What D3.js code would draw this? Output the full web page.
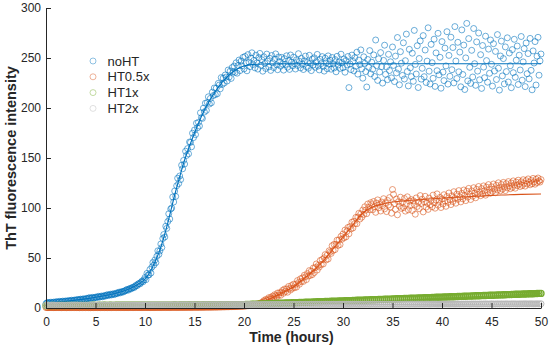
<!DOCTYPE html>
<html>
<head>
<meta charset="utf-8">
<script src="https://cdn.jsdelivr.net/npm/d3@7"></script>
<style>
  body { margin: 0; background: #fff; }
  svg { display: block; font-family: "Liberation Sans", Arial, sans-serif; }
</style>
</head>
<body>
<div id="chart"></div>
<script>
// noHT and HT0.5x read every 0.1 h, HT1x and HT2x every 0.2 h (0 to 50 h)
const fineStep = 0.1, fineCount = 501;
const coarseStep = 0.2, coarseCount = 251;

const seriesNames = ["noHT", "HT0.5x", "HT1x", "HT2x"];

// one row per hour
const noHT = [
  4.4, 5.1, 5.6, 4.9, 5.3, 5.8, 5.0, 5.5, 6.0, 5.2,
  5.9, 6.4, 5.6, 6.1, 6.7, 5.9, 6.3, 6.9, 6.2, 6.6,
  7.1, 6.5, 6.9, 7.5, 6.8, 7.3, 7.8, 7.0, 7.6, 8.0,
  7.5, 8.1, 8.5, 7.9, 8.4, 8.9, 8.2, 8.7, 9.2, 8.5,
  9.0, 9.6, 9.2, 9.9, 10.3, 9.5, 10.1, 10.6, 9.8, 10.4,
  10.9, 10.3, 11.1, 11.6, 10.8, 11.4, 12.0, 11.2, 11.8, 12.4,
  11.9, 12.7, 13.3, 12.5, 13.1, 13.8, 13.0, 13.6, 14.3, 13.5,
  14.1, 14.9, 14.4, 15.3, 15.9, 15.1, 15.8, 16.6, 16.0, 16.9,
  17.2, 17.9, 18.6, 17.8, 18.9, 19.7, 19.1, 20.2, 20.9, 20.4,
  21.6, 22.8, 22.3, 23.9, 24.6, 24.1, 25.8, 26.9, 26.2, 28.3,
  30.5, 28.3, 34.6, 33.0, 33.0, 38.5, 35.0, 41.0, 45.5, 43.0,
  48.0, 45.4, 51.8, 57.2, 53.6, 57.0, 64.0, 60.5, 69.5, 73.5,
  71.0, 81.8, 79.6, 86.4, 94.2, 89.0, 99.0, 100.0, 111.0, 106.0,
  117.0, 111.6, 122.2, 129.8, 124.4, 132.0, 128.4, 142.8, 139.2, 147.6,
  144.0, 156.8, 152.6, 159.4, 154.2, 166.0, 165.6, 161.2, 174.8, 170.4,
  178.0, 173.4, 184.8, 180.2, 185.6, 182.0, 195.2, 190.4, 189.6, 199.8,
  196.0, 204.8, 197.6, 205.4, 211.2, 204.0, 209.6, 205.2, 215.8, 212.4,
  220.0, 213.4, 219.8, 214.2, 224.6, 223.0, 219.2, 230.4, 223.6, 229.8,
  225.0, 233.0, 231.0, 227.0, 238.0, 231.0, 236.8, 229.6, 240.4, 236.2,
  242.0, 235.6, 245.2, 234.8, 242.4, 248.0, 237.4, 246.8, 242.2, 250.6,
  239.1, 251.6, 244.8, 237.2, 253.4, 246.0, 241.3, 249.9, 255.2, 243.5,
  247.6, 240.2, 252.8, 245.1, 238.9, 250.4, 254.6, 242.7, 248.3, 236.8,
  251.2, 244.6, 239.5, 253.9, 246.8, 241.1, 249.7, 237.6, 252.5, 245.3,
  240.4, 248.9, 254.1, 243.2, 238.3, 251.0, 246.4, 241.8, 250.6, 244.0,
  237.9, 249.3, 243.7, 252.2, 240.8, 247.5, 238.6, 253.0, 245.9, 242.1,
  250.8, 244.4, 239.0, 248.1, 242.6, 254.3, 246.7, 240.1, 249.6, 243.8,
  238.5, 247.2, 251.9, 241.4, 245.6, 239.8, 252.7, 244.9, 237.4, 249.0,
  243.1, 250.2, 240.7, 246.3, 253.6, 242.0, 238.1, 248.6, 244.5, 251.4,
  241.6, 236.9, 249.8, 245.2, 239.3, 252.1, 243.9, 247.7, 238.8, 250.5,
  244.2, 240.0, 248.4, 236.2, 251.7, 242.9, 246.0, 239.6, 253.8, 245.4,
  240.3, 249.1, 235.8, 247.4, 243.0, 251.5, 220.4, 244.1, 238.4, 252.9,
  246.6, 237.1, 250.3, 241.7, 255.8, 233.9, 247.9, 243.3, 258.1, 239.2,
  229.8, 251.2, 244.7, 236.4, 221.0, 248.5, 240.6, 257.4, 234.2, 245.8,
  238.7, 253.1, 231.5, 268.0, 242.4, 227.6, 249.2, 236.0, 255.4, 241.3,
  224.9, 247.6, 262.8, 233.7, 241.0, 228.3, 253.7, 237.5, 246.2, 230.1,
  261.0, 242.6, 226.4, 251.9, 235.1, 270.5, 238.9, 223.2, 256.3, 244.8,
  232.6, 265.2, 229.0, 247.3, 273.9, 236.5, 222.1, 258.7, 240.2, 231.4,
  254.8, 226.7, 277.6, 243.6, 234.0, 262.3, 220.5, 249.5, 267.1, 228.9,
  239.7, 272.4, 231.3, 258.0, 225.5, 246.9, 280.2, 236.8, 224.0, 263.6,
  245.3, 229.7, 268.8, 221.6, 255.1, 237.3, 274.7, 233.2, 250.7, 219.8,
  266.4, 235.9, 227.4, 259.9, 242.1, 276.3, 223.9, 252.6, 231.7, 270.8,
  238.3, 260.5, 225.1, 281.4, 247.0, 229.5, 265.7, 236.2, 255.9, 221.2,
  278.1, 233.5, 262.9, 218.5, 250.1, 284.6, 227.1, 269.4, 240.7, 224.6,
  257.7, 231.0, 279.5, 244.3, 222.7, 266.1, 236.9, 275.0, 228.2, 253.3,
  219.6, 262.5, 240.9, 230.3, 271.8, 247.4, 225.8, 258.9, 234.7, 268.0,
  243.7, 221.9, 264.3, 237.0, 256.6, 228.5, 273.4, 239.8, 217.9, 252.0,
  266.9, 232.1, 249.4, 224.1, 261.1, 236.4, 270.2, 226.0, 255.0, 242.3,
  220.3, 258.4, 235.3, 268.7, 230.7, 247.8, 262.0, 223.5, 252.8, 238.0,
  271.5, 227.8, 246.1, 259.4, 221.4, 265.0, 234.3, 254.4, 229.1, 269.6,
  237.7, 218.2, 257.1, 245.0, 266.4, 223.0, 251.8, 270.7, 232.8, 247.1,
  254.0
];

const ht05x = [
  0.4, 0.5, 0.3, 0.5, 0.4, 0.6, 0.4, 0.5, 0.3, 0.5,
  0.5, 0.4, 0.6, 0.4, 0.5, 0.5, 0.3, 0.5, 0.6, 0.4,
  0.5, 0.3, 0.5, 0.6, 0.4, 0.5, 0.4, 0.6, 0.5, 0.4,
  0.6, 0.4, 0.5, 0.5, 0.3, 0.6, 0.5, 0.4, 0.5, 0.6,
  0.4, 0.5, 0.6, 0.4, 0.5, 0.3, 0.6, 0.5, 0.4, 0.5,
  0.5, 0.6, 0.4, 0.5, 0.6, 0.4, 0.5, 0.5, 0.6, 0.4,
  0.6, 0.5, 0.4, 0.6, 0.5, 0.5, 0.4, 0.6, 0.5, 0.6,
  0.5, 0.4, 0.6, 0.5, 0.6, 0.4, 0.5, 0.6, 0.5, 0.4,
  0.6, 0.5, 0.5, 0.4, 0.6, 0.5, 0.6, 0.5, 0.4, 0.6,
  0.5, 0.6, 0.5, 0.6, 0.4, 0.6, 0.5, 0.5, 0.6, 0.5,
  0.6, 0.5, 0.6, 0.5, 0.6, 0.5, 0.4, 0.6, 0.6, 0.5,
  0.5, 0.6, 0.6, 0.5, 0.7, 0.5, 0.6, 0.5, 0.6, 0.7,
  0.6, 0.5, 0.7, 0.6, 0.6, 0.5, 0.7, 0.6, 0.6, 0.7,
  0.6, 0.7, 0.5, 0.7, 0.6, 0.7, 0.6, 0.6, 0.7, 0.6,
  0.7, 0.6, 0.7, 0.7, 0.6, 0.8, 0.6, 0.7, 0.7, 0.8,
  0.7, 0.8, 0.7, 0.7, 0.8, 0.7, 0.8, 0.8, 0.7, 0.8,
  0.8, 0.8, 0.9, 0.8, 0.9, 0.8, 0.9, 0.9, 0.8, 1.0,
  0.9, 1.0, 0.9, 1.0, 1.0, 1.1, 1.0, 1.1, 1.1, 1.2,
  1.1, 1.2, 1.2, 1.3, 1.2, 1.3, 1.4, 1.3, 1.4, 1.5,
  1.4, 1.5, 1.6, 1.5, 1.7, 1.6, 1.8, 1.7, 1.9, 1.8,
  1.9, 2.1, 2.0, 2.3, 2.2, 2.5, 2.4, 2.7, 2.6, 2.9,
  2.8, 3.3, 3.2, 3.8, 3.7, 4.4, 4.3, 5.1, 5.0, 5.9,
  7.3, 6.5, 8.6, 7.9, 7.4, 10.3, 8.9, 10.6, 9.1, 11.9,
  10.0, 13.3, 12.3, 11.0, 15.0, 12.9, 15.2, 12.7, 15.7, 17.7,
  14.8, 19.0, 16.6, 19.1, 15.8, 21.5, 19.5, 18.0, 22.4, 19.7,
  23.8, 20.3, 23.6, 20.9, 27.4, 25.4, 23.8, 29.2, 26.5, 30.0,
  26.6, 32.8, 31.2, 28.4, 34.4, 32.0, 37.4, 32.6, 36.8, 33.4,
  40.0, 35.5, 40.5, 44.0, 38.0, 42.5, 41.0, 47.5, 43.5, 48.5,
  44.0, 50.2, 53.4, 48.1, 52.8, 49.0, 57.2, 55.9, 54.6, 62.3,
  57.5, 63.7, 58.4, 63.6, 67.8, 62.5, 68.2, 63.4, 71.6, 68.8,
  74.0, 70.2, 77.9, 71.1, 76.8, 80.5, 74.2, 81.4, 79.1, 85.8,
  80.0, 86.7, 84.4, 90.6, 84.3, 91.0, 94.7, 88.9, 94.1, 90.8,
  98.0, 93.6, 101.2, 97.8, 94.4, 104.0, 100.6, 98.2, 105.3, 103.4,
  98.3, 106.5, 101.4, 95.7, 104.9, 108.1, 100.2, 103.6, 97.0, 106.0,
  102.5, 109.3, 99.1, 105.2, 96.4, 107.6, 103.0, 110.4, 101.1, 94.8,
  118.5, 113.6, 104.4, 98.7, 108.9, 93.2, 106.3, 101.9, 110.8, 99.6,
  105.7, 100.4, 109.5, 96.9, 104.1, 111.2, 98.2, 106.9, 102.3, 108.4,
  97.5, 107.2, 103.5, 93.8, 110.1, 101.6, 105.8, 99.3, 112.4, 104.6,
  108.8, 96.1, 106.2, 111.7, 100.9, 104.9, 98.6, 109.9, 103.3, 107.5,
  101.2, 112.9, 105.4, 99.8, 108.0, 114.1, 102.8, 106.7, 110.6, 100.5,
  109.1, 104.0, 113.3, 107.0, 101.7, 111.5, 105.6, 115.0, 108.3, 103.4,
  112.2, 106.5, 116.3, 109.6, 104.8, 113.9, 108.7, 117.4, 111.0, 106.1,
  114.6, 109.2, 118.0, 112.5, 107.4, 116.8, 110.9, 119.6, 113.7, 108.5,
  117.1, 111.8, 120.3, 114.9, 110.2, 118.7, 113.5, 121.5, 116.0, 112.3,
  119.4, 114.2, 122.1, 117.3, 112.8, 120.9, 115.7, 123.4, 118.6, 114.9,
  121.2, 116.6, 124.0, 119.1, 115.3, 122.7, 118.0, 125.2, 120.4, 117.2,
  123.5, 118.8, 125.6, 121.0, 117.4, 124.3, 120.1, 126.4, 122.2, 119.3,
  125.0, 120.7, 127.1, 123.0, 119.8, 125.9, 122.4, 127.8, 124.1, 121.5,
  126.2, 122.6, 128.3, 124.7, 121.9, 127.4, 124.0, 129.1, 125.6, 123.2,
  127.5, 124.3, 129.6, 126.0, 123.8, 128.7, 125.4, 130.0, 127.0, 125.9,
  128.4
];

// one row per two hours
const ht1x = [
  2.4, 2.5, 2.4, 2.5, 2.5, 2.4, 2.5, 2.5, 2.6, 2.5,
  2.5, 2.6, 2.5, 2.6, 2.5, 2.6, 2.6, 2.5, 2.6, 2.6,
  2.6, 2.5, 2.6, 2.6, 2.7, 2.6, 2.6, 2.7, 2.6, 2.7,
  2.7, 2.6, 2.7, 2.7, 2.6, 2.7, 2.7, 2.8, 2.7, 2.7,
  2.8, 2.7, 2.8, 2.7, 2.8, 2.8, 2.7, 2.8, 2.8, 2.9,
  2.8, 2.8, 2.9, 2.8, 2.9, 2.8, 2.9, 2.9, 2.8, 2.9,
  2.9, 2.9, 2.8, 2.9, 2.9, 3.0, 2.9, 2.9, 3.0, 2.9,
  3.0, 2.9, 3.0, 3.0, 2.9, 3.0, 3.0, 3.0, 2.9, 3.0,
  3.0, 3.1, 3.0, 3.0, 3.1, 3.0, 3.1, 3.1, 3.0, 3.1,
  3.1, 3.1, 3.0, 3.1, 3.1, 3.2, 3.1, 3.1, 3.2, 3.1,
  3.4, 3.5, 3.6, 3.6, 3.7, 3.8, 3.9, 3.9, 4.0, 4.1,
  4.1, 4.2, 4.3, 4.4, 4.4, 4.5, 4.6, 4.7, 4.7, 4.8,
  4.9, 5.0, 5.0, 5.1, 5.2, 5.3, 5.3, 5.4, 5.5, 5.6,
  5.6, 5.7, 5.8, 5.9, 5.9, 6.0, 6.1, 6.2, 6.2, 6.3,
  6.4, 6.5, 6.5, 6.6, 6.7, 6.8, 6.8, 6.9, 7.0, 7.1,
  7.1, 7.2, 7.3, 7.4, 7.4, 7.5, 7.6, 7.7, 7.7, 7.8,
  7.9, 8.0, 8.0, 8.1, 8.2, 8.3, 8.3, 8.4, 8.5, 8.6,
  8.6, 8.7, 8.8, 8.9, 8.9, 9.0, 9.1, 9.2, 9.2, 9.3,
  9.4, 9.5, 9.5, 9.6, 9.7, 9.8, 9.8, 9.9, 10.0, 10.1,
  10.1, 10.2, 10.3, 10.4, 10.4, 10.5, 10.6, 10.7, 10.7, 10.8,
  10.9, 11.0, 11.0, 11.1, 11.2, 11.3, 11.3, 11.4, 11.5, 11.6,
  11.6, 11.7, 11.8, 11.9, 11.9, 12.0, 12.1, 12.2, 12.2, 12.3,
  12.4, 12.5, 12.5, 12.6, 12.7, 12.8, 12.8, 12.9, 13.0, 13.1,
  13.1, 13.2, 13.3, 13.4, 13.4, 13.5, 13.6, 13.7, 13.7, 13.8,
  13.9, 14.0, 14.0, 14.1, 14.2, 14.3, 14.3, 14.4, 14.5, 14.6,
  14.6
];

const ht2x = [
  2.6, 2.7, 2.6, 2.7, 2.7, 2.6, 2.7, 2.7, 2.8, 2.7,
  2.7, 2.8, 2.7, 2.8, 2.7, 2.8, 2.8, 2.7, 2.8, 2.8,
  2.8, 2.7, 2.8, 2.8, 2.9, 2.8, 2.8, 2.9, 2.8, 2.9,
  2.9, 2.8, 2.9, 2.9, 2.8, 2.9, 2.9, 3.0, 2.9, 2.9,
  3.0, 2.9, 3.0, 2.9, 3.0, 3.0, 2.9, 3.0, 3.0, 3.1,
  3.0, 3.0, 3.1, 3.0, 3.1, 3.0, 3.1, 3.1, 3.0, 3.1,
  3.1, 3.1, 3.0, 3.1, 3.1, 3.2, 3.1, 3.1, 3.2, 3.1,
  3.2, 3.1, 3.2, 3.2, 3.1, 3.2, 3.2, 3.2, 3.1, 3.2,
  3.2, 3.3, 3.2, 3.2, 3.3, 3.2, 3.3, 3.3, 3.2, 3.3,
  3.3, 3.3, 3.2, 3.3, 3.3, 3.4, 3.3, 3.3, 3.4, 3.3,
  3.4, 3.3, 3.4, 3.4, 3.3, 3.4, 3.4, 3.4, 3.3, 3.4,
  3.4, 3.5, 3.4, 3.4, 3.5, 3.4, 3.5, 3.5, 3.4, 3.5,
  3.5, 3.5, 3.4, 3.5, 3.5, 3.6, 3.5, 3.5, 3.6, 3.5,
  3.5, 3.6, 3.5, 3.6, 3.6, 3.5, 3.6, 3.6, 3.6, 3.5,
  3.6, 3.6, 3.7, 3.6, 3.6, 3.7, 3.6, 3.6, 3.7, 3.6,
  3.7, 3.6, 3.7, 3.7, 3.6, 3.7, 3.7, 3.7, 3.6, 3.7,
  3.7, 3.7, 3.8, 3.7, 3.7, 3.8, 3.7, 3.7, 3.8, 3.7,
  3.8, 3.7, 3.8, 3.8, 3.7, 3.8, 3.8, 3.8, 3.7, 3.8,
  3.8, 3.8, 3.9, 3.8, 3.8, 3.9, 3.8, 3.8, 3.9, 3.8,
  3.9, 3.8, 3.9, 3.9, 3.8, 3.9, 3.9, 3.9, 3.8, 3.9,
  3.9, 3.9, 4.0, 3.9, 3.9, 4.0, 3.9, 3.9, 4.0, 3.9,
  4.0, 3.9, 4.0, 4.0, 3.9, 4.0, 4.0, 4.0, 3.9, 4.0,
  4.0, 4.0, 4.1, 4.0, 4.0, 4.1, 4.0, 4.0, 4.1, 4.0,
  4.1, 4.0, 4.1, 4.1, 4.0, 4.1, 4.1, 4.1, 4.0, 4.1,
  4.1, 4.1, 4.2, 4.1, 4.1, 4.2, 4.1, 4.1, 4.2, 4.1,
  4.2
];

// fitted curves
const noHTFitTime = [0, 2, 4, 6, 8, 9, 10, 10.5, 11, 11.5, 12, 12.5, 13, 13.5, 14, 14.5, 15, 15.5, 16, 16.5, 17, 17.5, 18, 18.5, 19, 19.5, 20, 21, 22, 24, 50];
const noHTFit = [5, 6.6, 9.1, 12.5, 17.5, 22, 29, 36, 46, 58, 74, 93, 113, 131, 148, 162, 175, 187, 198, 207, 215, 222, 228, 233, 237, 240, 242, 243.5, 244, 244.3, 244.3];
const ht05xFitTime = [0, 20, 21, 22, 23, 24, 25, 26, 27, 28, 29, 30, 31, 32, 33, 34, 35, 36, 38, 40, 42, 44, 46, 48, 50];
const ht05xFit = [0.3, 1, 3, 6.5, 11, 16, 21, 29, 37, 47, 59, 71, 83, 95, 101, 104, 106, 107, 108.5, 110, 111, 112, 113, 113.6, 114];
const ht1xFitTime = [0, 20, 50];
const ht1xFit = [2.6, 3.3, 14.6];
const ht2xFitTime = [0, 50];
const ht2xFit = [2.8, 4.0];

const xTicks = [0, 5, 10, 15, 20, 25, 30, 35, 40, 45, 50];
const yTicks = [0, 50, 100, 150, 200, 250, 300];

const colors = ["#0072BD", "#D95319", "#77AC30", "#b8b8b8"];

const width = 550, height = 348;
const margin = { top: 8, right: 9, bottom: 40, left: 46 };

const fineTimes = d3.range(fineCount).map(i => +(i * fineStep).toFixed(1));
const coarseTimes = d3.range(coarseCount).map(i => +(i * coarseStep).toFixed(1));
const values = [noHT, ht05x, ht1x, ht2x];
const timeGrids = [fineTimes, fineTimes, coarseTimes, coarseTimes];
const fits = [[noHTFitTime, noHTFit], [ht05xFitTime, ht05xFit], [ht1xFitTime, ht1xFit], [ht2xFitTime, ht2xFit]];
const markerStroke = [0.8, 0.8, 1.4, 1];

const svg = d3.select("#chart")
  .append("svg")
  .attr("width", width)
  .attr("height", height);

const x = d3.scaleLinear().domain([0, 50]).range([margin.left, width - margin.right]);
const y = d3.scaleLinear().domain([0, 300]).range([height - margin.bottom, margin.top]);

const line = d3.line()
  .x(d => x(d[0]))
  .y(d => y(d[1]))
  .curve(d3.curveMonotoneX);

seriesNames.forEach((name, i) => {
  const pts = timeGrids[i].map((t, j) => [t, values[i][j]]);
  svg.append("g")
    .attr("fill", "none")
    .attr("stroke", colors[i])
    .attr("stroke-opacity", i < 2 ? 0.72 : 1)
    .attr("stroke-width", markerStroke[i])
    .selectAll("circle")
    .data(pts)
    .join("circle")
    .attr("cx", d => x(d[0]))
    .attr("cy", d => y(d[1]))
    .attr("r", 3);

  const [ft, fv] = fits[i];
  svg.append("path")
    .datum(ft.map((t, j) => [t, fv[j]]))
    .attr("fill", "none")
    .attr("stroke", colors[i])
    .attr("stroke-width", 1.1)
    .attr("d", line);
});

// axes, MATLAB style with inward ticks
const xAxis = svg.append("g")
  .attr("transform", `translate(0,${y(0)})`)
  .call(d3.axisBottom(x).tickValues(xTicks).tickSizeInner(-5).tickSizeOuter(0).tickPadding(9));
const yAxis = svg.append("g")
  .attr("transform", `translate(${x(0)},0)`)
  .call(d3.axisLeft(y).tickValues(yTicks).tickSizeInner(-5).tickSizeOuter(0).tickPadding(5));

[xAxis, yAxis].forEach(ax => {
  ax.select(".domain").attr("stroke", "#262626").attr("stroke-width", 1);
  ax.selectAll(".tick line").attr("stroke", "#262626");
  ax.selectAll(".tick text")
    .attr("fill", "#262626")
    .attr("font-size", "12px")
    .attr("font-family", "'Liberation Sans', Arial, sans-serif");
});

svg.append("text")
  .attr("x", x(25) - 2)
  .attr("y", 342)
  .attr("text-anchor", "middle")
  .attr("font-size", "14px")
  .attr("font-weight", "bold")
  .attr("fill", "#262626")
  .text("Time (hours)");

svg.append("text")
  .attr("transform", `translate(16,${y(150)}) rotate(-90)`)
  .attr("text-anchor", "middle")
  .attr("font-size", "14.5px")
  .attr("font-weight", "bold")
  .attr("fill", "#262626")
  .text("ThT fluorescence intensity");

// legend
const legend = svg.append("g").attr("transform", "translate(93,61)");
seriesNames.forEach((name, i) => {
  const row = legend.append("g").attr("transform", `translate(0,${i * 15.8})`);
  row.append("circle")
    .attr("r", 3)
    .attr("fill", "none")
    .attr("stroke", colors[i])
    .attr("stroke-opacity", 0.55)
    .attr("stroke-width", 0.8);
  row.append("text")
    .attr("x", 14.5)
    .attr("dy", "0.35em")
    .attr("font-size", "13px")
    .attr("fill", "#262626")
    .text(name);
});
</script>
</body>
</html>
